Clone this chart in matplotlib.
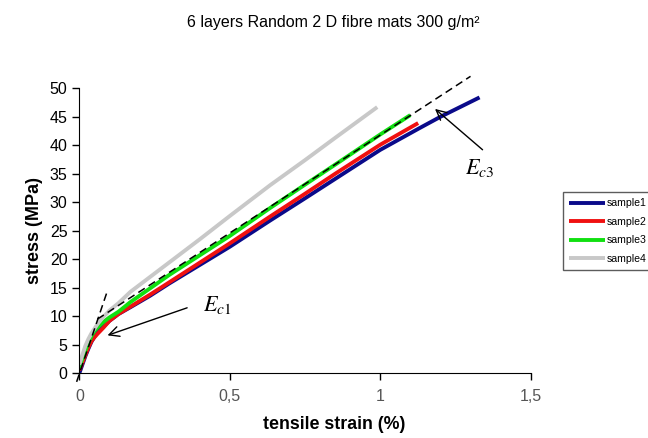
import matplotlib
matplotlib.use("Agg")
import matplotlib.pyplot as plt

plt.rcParams['font.family'] = ['Liberation Sans', 'DejaVu Sans']
plt.rcParams['mathtext.fontset'] = 'stix'

# tensile curves (strain %, stress MPa)
s1_x = [0, 0.01, 0.02, 0.03, 0.04, 0.05, 0.06, 0.08, 0.10, 0.13, 0.17, 0.235, 0.3, 0.4, 0.5, 0.634, 0.75, 0.85, 1.0, 1.13, 1.2, 1.33]
s1_y = [0, 1.5, 3.0, 4.3, 5.5, 6.4, 7.1, 8.2, 9.2, 10.4, 11.6, 13.6, 15.8, 19.0, 22.2, 26.8, 30.7, 34.1, 39.2, 43.0, 45.0, 48.4]

s2_x = [0, 0.01, 0.02, 0.03, 0.04, 0.05, 0.06, 0.08, 0.10, 0.13, 0.17, 0.235, 0.3, 0.4, 0.5, 0.634, 0.75, 0.85, 1.0, 1.126]
s2_y = [0.5, 1.8, 3.2, 4.5, 5.6, 6.3, 6.9, 8.0, 9.2, 10.4, 11.7, 13.8, 16.0, 19.4, 22.8, 27.5, 31.5, 35.0, 40.1, 43.9]

s3_x = [0, 0.01, 0.02, 0.03, 0.04, 0.05, 0.06, 0.08, 0.10, 0.13, 0.17, 0.235, 0.3, 0.4, 0.5, 0.634, 0.75, 0.85, 1.0, 1.10]
s3_y = [1.0, 2.5, 4.0, 5.3, 6.5, 7.4, 8.0, 9.0, 9.8, 10.8, 12.5, 14.9, 17.3, 20.7, 24.1, 29.0, 33.1, 36.6, 41.9, 45.3]

s4_x = [0, 0.01, 0.02, 0.03, 0.04, 0.05, 0.06, 0.08, 0.10, 0.13, 0.17, 0.235, 0.3, 0.4, 0.5, 0.634, 0.75, 0.85, 0.99]
s4_y = [1.5, 3.2, 4.8, 6.0, 7.0, 7.8, 8.6, 9.9, 11.0, 12.3, 14.3, 16.9, 19.5, 23.5, 27.6, 33.0, 37.4, 41.3, 46.7]

labels = ['sample1', 'sample2', 'sample3', 'sample4']
colors = ['#0a0a8a', '#f01010', '#10e010', '#c8c8c8']

# fitted moduli (dashed), extend past the axes
ec1_x = [-0.009, 0.091]
ec1_y = [-1.5, 14.1]
ec3_x = [0.06, 1.30]
ec3_y = [9.5, 52.1]

fig = plt.figure(figsize=(6.48, 4.38), dpi=100)
ax = fig.add_axes([0.1224, 0.1477, 0.6966, 0.6507])

curves = [(s1_x, s1_y), (s2_x, s2_y), (s3_x, s3_y), (s4_x, s4_y)]
for (x, y), lab, c in zip(curves, labels, colors):
    ax.plot(x, y, color=c, lw=2.8, label=lab, solid_capstyle='butt')

ax.plot(ec1_x, ec1_y, color='black', lw=1.1, ls=(0, (5, 3)), clip_on=False)
ax.plot(ec3_x, ec3_y, color='black', lw=1.1, ls=(0, (5, 3)), clip_on=False)

ax.annotate('', xy=(0.085, 6.5), xytext=(0.367, 11.65),
            arrowprops=dict(arrowstyle='->', color='black', lw=1.0, mutation_scale=18))
ax.text(0.41, 12.0, r'$E_{c1}$', fontsize=16, va='center', ha='left')
ax.annotate('', xy=(1.175, 46.7), xytext=(1.347, 38.9),
            arrowprops=dict(arrowstyle='->', color='black', lw=1.0, mutation_scale=18))
ax.text(1.33, 36.0, r'$E_{c3}$', fontsize=16, va='center', ha='center')

ax.set_xlim(0, 1.5)
ax.set_ylim(0, 50)
ax.set_xticks([0, 0.5, 1, 1.5])
ax.set_xticklabels(['0', '0,5', '1', '1,5'], color='#555555')
ax.set_yticks(range(0, 51, 5))
ax.tick_params(axis='both', direction='out', length=5, width=1, labelsize=11.5)
ax.tick_params(axis='x', pad=6)
ax.spines['top'].set_visible(False)
ax.spines['right'].set_visible(False)

ax.set_xlabel('tensile strain (%)', fontsize=12.8, fontweight='bold', labelpad=9, x=0.564)
ax.set_ylabel('stress (MPa)', fontsize=13, fontweight='bold', labelpad=5)
fig.text(0.514, 0.948, '6 layers Random 2 D fibre mats 300 g/m²', fontsize=11.5,
         ha='center', va='center')

fig.legend(loc='upper left', bbox_to_anchor=(563 / 648, 1 - 192 / 438),
           fontsize=7.6, handlelength=3.4, handletextpad=0.1, labelspacing=0.8,
           frameon=True, fancybox=False, edgecolor='#333333', borderpad=0.6,
           borderaxespad=0)

fig.savefig('out.png', dpi=100)
